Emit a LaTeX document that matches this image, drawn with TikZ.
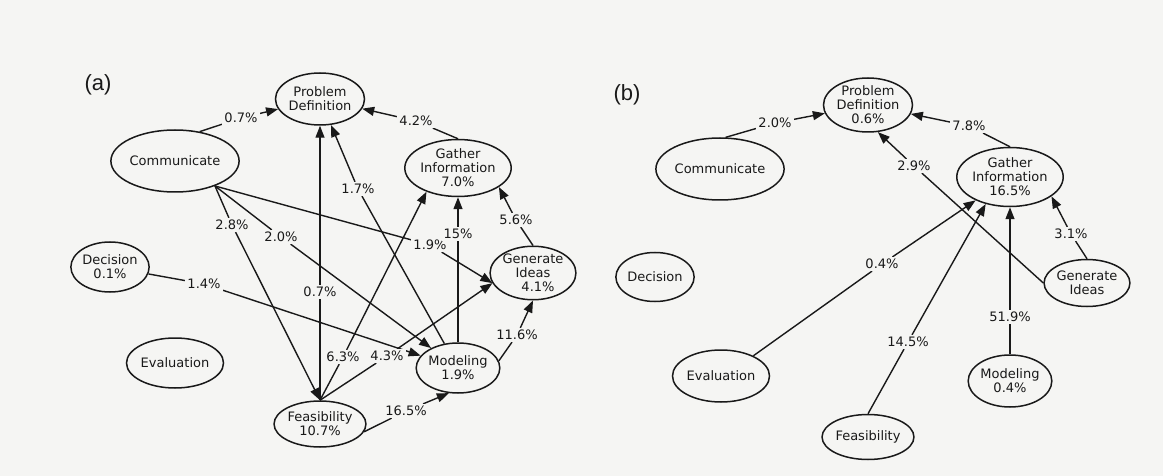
\documentclass[tikz,border=0pt]{standalone}
\usepackage{fontspec}
\setmainfont{DejaVu Sans}
\newfontfamily\labfont{Liberation Sans}
\usetikzlibrary{shapes.geometric,arrows.meta}
\pgfdeclarelayer{bg}
\pgfdeclarelayer{edges}
\pgfsetlayers{bg,edges,main}
\definecolor{paper}{RGB}{245,245,243}
\definecolor{ink}{RGB}{25,25,25}
\begin{document}
\begin{tikzpicture}[x=1pt,y=-1pt,
  st/.style={ellipse, draw=ink, line width=1.5pt, inner sep=0pt, align=center, text=ink,
             font=\fontsize{13}{14}\selectfont},
  pct/.style={inner sep=2pt, fill=paper, text=ink, font=\fontsize{13}{14}\selectfont},
  ln/.style={draw=ink, line width=1.4pt},
  arr/.style={ln, -{Triangle[length=12pt,width=9pt]}},
  panel/.style={font=\labfont\fontsize{22}{24}\selectfont, text=ink, inner sep=0pt}]
\begin{pgfonlayer}{bg}
\fill[paper] (0,0) rectangle (1163,476);
\end{pgfonlayer}
\useasboundingbox (0,0) rectangle (1163,476);

% ---------------- panel (a) ----------------
\node[panel] (pa) at (98,85) {(a)};
\node[st, minimum width=76pt, minimum height=52pt] (pdA) at (320,99) {Problem\\Definition};
\node[st, minimum width=104pt, minimum height=62pt] (commA) at (175,161) {Communicate};
\node[st, minimum width=90pt, minimum height=57pt] (giA) at (458,168) {Gather\\Information\\7.0\%};
\node[st, minimum width=80pt, minimum height=50pt] (genA) at (533,273) {Generate\\Ideas\\\hspace*{10pt}4.1\%};
\node[st, minimum width=74pt, minimum height=50pt] (modA) at (458,368) {Modeling\\1.9\%};
\node[st, minimum width=76pt, minimum height=46pt] (feasA) at (320,424) {Feasibility\\10.7\%};
\node[st, minimum width=75pt, minimum height=50pt] (decA) at (110,267) {Decision\\0.1\%};
\node[st, minimum width=80pt, minimum height=50pt] (evalA) at (175,363) {Evaluation};

\node[pct] (a1) at (241,118) {0.7\%};
\node[pct] (a2) at (416,121) {4.2\%};
\node[pct] (a3) at (320,292) {0.7\%};
\node[pct] (a4) at (358,189) {1.7\%};
\node[pct] (a5) at (232,225) {2.8\%};
\node[pct] (a6) at (281,237) {2.0\%};
\node[pct] (a7) at (430,245) {1.9\%};
\node[pct] (a8) at (204,284) {1.4\%};
\node[pct] (a9) at (343,357) {6.3\%};
\node[pct] (a10) at (387,356) {4.3\%};
\node[pct] (a11) at (458,234) {15\%};
\node[pct] (a12) at (516,220) {5.6\%};
\node[pct] (a13) at (517,335) {11.6\%};
\node[pct] (a14) at (406,411) {16.5\%};

% ---------------- panel (b) ----------------
\node[panel] (pb) at (627,95) {(b)};
\node[st, minimum width=83pt, minimum height=54pt] (pdB) at (868,105) {Problem\\Definition\\0.6\%};
\node[st, minimum width=105pt, minimum height=62pt] (commB) at (720,169) {Communicate};
\node[st, minimum width=88pt, minimum height=59pt] (giB) at (1010,177) {Gather\\Information\\16.5\%};
\node[st, minimum width=81pt, minimum height=47pt] (genB) at (1087,283) {Generate\\Ideas};
\node[st, minimum width=76pt, minimum height=49pt] (decB) at (655,277) {Decision};
\node[st, minimum width=82pt, minimum height=52pt] (evalB) at (721,376) {Evaluation};
\node[st, minimum width=80pt, minimum height=45pt] (feasB) at (868,437) {Feasibility};
\node[st, minimum width=76pt, minimum height=52pt] (modB) at (1010,381) {Modeling\\0.4\%};

\node[pct] (b1) at (775,123) {2.0\%};
\node[pct] (b2) at (969,126) {7.8\%};
\node[pct] (b3) at (914,166) {2.9\%};
\node[pct] (b4) at (882,264) {0.4\%};
\node[pct] (b5) at (908,342) {14.5\%};
\node[pct] (b6) at (1010,317) {51.9\%};
\node[pct] (b7) at (1071,234) {3.1\%};

\begin{pgfonlayer}{edges}
% (a)
\draw[ln] (commA.50) -- (a1);   \draw[arr] (a1) -- (pdA);
\draw[ln] (giA.north) -- (a2);  \draw[arr] (a2) -- (pdA);
\draw[ln] (feasA.north) -- (a3); \draw[arr] (a3) -- (pdA.south);
\draw[ln] (modA) -- (a4);       \draw[arr] (a4) -- (pdA);
\draw[ln] (commA.-32) -- (a5);  \draw[arr] (a5) -- (feasA.north);
\draw[ln] (commA.-32) -- (a6);  \draw[arr] (a6) -- (modA);
\draw[ln] (commA.-32) -- (a7);  \draw[arr] (a7) -- (genA.194);
\draw[ln] (decA) -- (a8);       \draw[arr] (a8) -- (modA);
\draw[ln] (feasA.north) -- (a9); \draw[arr] (a9) -- (giA.217);
\draw[ln] (feasA.north) -- (a10); \draw[arr] (a10) -- (genA.194);
\draw[ln] (modA.north) -- (a11); \draw[arr] (a11) -- (giA.south);
\draw[ln] (genA.north) -- (a12); \draw[arr] (a12) -- (giA.-25);
\draw[ln] (modA.10) -- (a13);   \draw[arr] (a13) -- (genA.south);
\draw[ln] (feasA.-10) -- (a14); \draw[arr] (a14) -- (modA.-110);
% (b)
\draw[ln] (commB.80) -- (b1);   \draw[arr] (b1) -- (pdB);
\draw[ln] (giB.north) -- (b2);  \draw[arr] (b2) -- (pdB);
\draw[ln] (genB.west) -- (b3);  \draw[arr] (b3) -- (pdB.-70);
\draw[ln] (evalB.32) -- (b4);   \draw[arr] (b4) -- (giB);
\draw[ln] (feasB.north) -- (b5); \draw[arr] (b5) -- (giB.228);
\draw[ln] (modB.north) -- (b6); \draw[arr] (b6) -- (giB.south);
\draw[ln] (genB.north) -- (b7); \draw[arr] (b7) -- (giB.-25);
\end{pgfonlayer}
\end{tikzpicture}
\end{document}
